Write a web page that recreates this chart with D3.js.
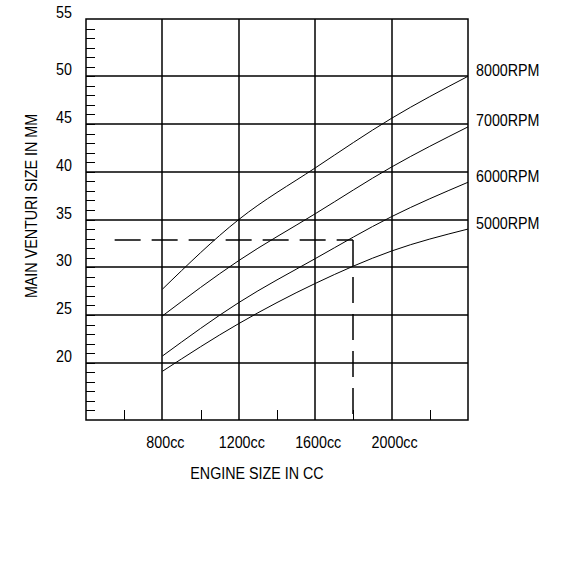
<!DOCTYPE html>
<html>
<head>
<meta charset="utf-8">
<script src="https://cdn.jsdelivr.net/npm/d3@7"></script>
<style>
  body { margin: 0; background: #fff; }
  text { font-family: "Liberation Sans", Arial, sans-serif; fill: #000; }
</style>
</head>
<body>
<div id="chart"></div>
<script>
// engine size (cc) where each curve is read
const engineSizes = [800, 1200, 1600, 2000, 2400];
// main venturi size (mm) per rpm
const rpm8000 = [27.7, 35.0, 40.4, 45.6, 50.0];
const rpm7000 = [24.9, 30.7, 35.6, 40.5, 44.7];
const rpm6000 = [20.7, 26.3, 30.9, 35.3, 38.9];
const rpm5000 = [19.1, 24.1, 28.3, 31.7, 34.0];
const seriesNames = ['8000RPM', '7000RPM', '6000RPM', '5000RPM'];

const xGridValues = [800, 1200, 1600, 2000];
const xTickLabels = ['800cc', '1200cc', '1600cc', '2000cc'];
const xMinorTicks = [600, 1000, 1400, 1800, 2200];
const yGridValues = [20, 25, 30, 35, 40, 45, 50];
const yTickLabels = [20, 25, 30, 35, 40, 45, 50, 55];

// worked example: 1800cc engine -> 32.9mm
const refEngine = 1800;
const refVenturi = 32.9;
const refStart = 550;

const W = 576, H = 576;
const plotL = 86, plotR = 468, plotT = 19, plotB = 420;
const stretch = 1.17;

const svg = d3.select('#chart').append('svg')
  .attr('width', W)
  .attr('height', H);

const x = d3.scaleLinear().domain([400, 2400]).range([plotL, plotR]);
const y = d3.scaleLinear().domain([14, 56]).range([plotB, plotT]);

// snap to whole pixels so all grid lines get the same weight
const snap2 = v => Math.round(v);
const snap1 = v => Math.round(v) + 0.5;

// grid
const grid = svg.append('g')
  .attr('stroke', '#000')
  .attr('stroke-width', 1.5);

grid.selectAll('.hg').data(yGridValues).enter().append('line')
  .attr('x1', plotL).attr('x2', plotR)
  .attr('y1', d => snap2(y(d))).attr('y2', d => snap2(y(d)));

grid.selectAll('.vg').data(xGridValues).enter().append('line')
  .attr('y1', plotT).attr('y2', plotB)
  .attr('x1', d => snap2(x(d))).attr('x2', d => snap2(x(d)));

grid.append('rect')
  .attr('x', plotL).attr('y', plotT)
  .attr('width', plotR - plotL).attr('height', plotB - plotT)
  .attr('fill', 'none');

// minor ticks
const ticks = svg.append('g')
  .attr('stroke', '#000')
  .attr('stroke-width', 1)
  .attr('shape-rendering', 'crispEdges');

ticks.selectAll('.ymt').data(d3.range(15, 56)).enter().append('line')
  .attr('x1', plotL).attr('x2', plotL + 9)
  .attr('y1', d => snap1(y(d))).attr('y2', d => snap1(y(d)));

ticks.selectAll('.xmt').data(xMinorTicks).enter().append('line')
  .attr('y1', plotB).attr('y2', plotB - 10)
  .attr('x1', d => snap1(x(d))).attr('x2', d => snap1(x(d)));

// reference dashed lines
const dashed = svg.append('g')
  .attr('stroke', '#000')
  .attr('stroke-width', 1.5)
  .attr('stroke-dasharray', '26 11');

dashed.append('line')
  .attr('x1', x(refStart)).attr('x2', snap2(x(refEngine)))
  .attr('y1', snap2(y(refVenturi))).attr('y2', snap2(y(refVenturi)));

dashed.append('line')
  .attr('x1', snap2(x(refEngine))).attr('x2', snap2(x(refEngine)))
  .attr('y1', snap2(y(refVenturi))).attr('y2', plotB);

// curves
const allSeries = [rpm8000, rpm7000, rpm6000, rpm5000];
const line = d3.line()
  .x((d, i) => x(engineSizes[i]))
  .y(d => y(d))
  .curve(d3.curveMonotoneX);

svg.selectAll('.curve').data(allSeries).enter().append('path')
  .attr('d', line)
  .attr('fill', 'none')
  .attr('stroke', '#000')
  .attr('stroke-width', 1);

// text helper: slightly tall, narrow look of the original
function label(xp, yp, str, anchor, rotate) {
  const g = svg.append('g')
    .attr('transform', 'translate(' + xp + ',' + yp + ')' + (rotate ? ' rotate(-90)' : '') + ' scale(1,' + stretch + ')');
  g.append('text')
    .attr('font-size', 14.3)
    .attr('text-anchor', anchor)
    .text(str);
}

// y tick labels
yTickLabels.forEach(v => {
  const pos = v === 55 ? y.domain()[1] : v;
  label(72, y(pos) - 1, v, 'end');
});

// x tick labels
xGridValues.forEach((v, i) => {
  label(x(v) + 3, 448, xTickLabels[i], 'middle');
});

// series labels
allSeries.forEach((s, i) => {
  label(476, y(s[s.length - 1]) - 0.5, seriesNames[i], 'start');
});

// axis titles
label(257, 479, 'ENGINE SIZE IN CC', 'middle');
label(37, 206, 'MAIN VENTURI SIZE IN MM', 'middle', true);
</script>
</body>
</html>
